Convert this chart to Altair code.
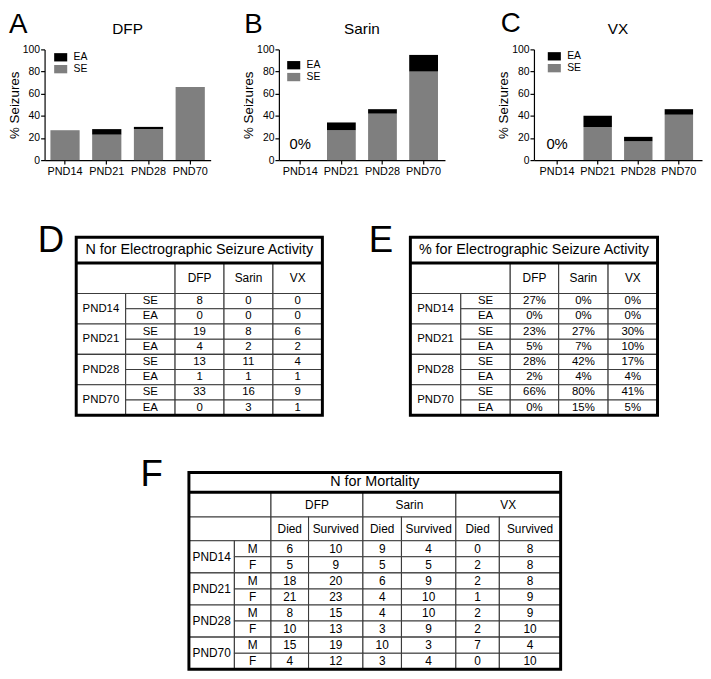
import altair as alt
import pandas as pd

# ---------------- data ----------------
ages = ["PND14", "PND21", "PND28", "PND70"]
agents = ["DFP", "Sarin", "VX"]

# % of animals with seizures (panels A-C, table E)
dfp_se_pct = [27, 23, 28, 66]
dfp_ea_pct = [0, 5, 2, 0]
sarin_se_pct = [0, 27, 42, 80]
sarin_ea_pct = [0, 7, 4, 15]
vx_se_pct = [0, 30, 17, 41]
vx_ea_pct = [0, 10, 4, 5]

# N with seizures (table D)
dfp_se_n = [8, 19, 13, 33]
dfp_ea_n = [0, 4, 1, 0]
sarin_se_n = [0, 8, 11, 16]
sarin_ea_n = [0, 2, 1, 3]
vx_se_n = [0, 6, 4, 9]
vx_ea_n = [0, 2, 1, 1]

# N for mortality (table F); rows: PND14 M, PND14 F, PND21 M, PND21 F, ...
sexes = ["M", "F"]
dfp_died = [6, 5, 18, 21, 8, 10, 15, 4]
dfp_survived = [10, 9, 20, 23, 15, 13, 19, 12]
sarin_died = [9, 5, 6, 4, 4, 3, 10, 3]
sarin_survived = [4, 5, 9, 10, 10, 9, 3, 4]
vx_died = [0, 2, 2, 1, 2, 2, 7, 0]
vx_survived = [8, 8, 8, 9, 9, 10, 4, 10]

FONT = "Liberation Sans"
SE_GRAY = "#7f7f7f"
GRID = "#3c3c3c"
PH = 112


# ---------------- bar panels ----------------
def bar_panel(agent, se, ea, letter, letter_x, letter_y, leg_x, leg_y, pw, pad_outer):
    rows = []
    for i, a in enumerate(ages):
        rows.append({"age": a, "type": "SE", "pct": se[i], "ord": 0})
        rows.append({"age": a, "type": "EA", "pct": ea[i], "ord": 1})
    df = pd.DataFrame(rows)
    tot = pd.DataFrame({
        "age": ages,
        "total": [s + e for s, e in zip(se, ea)],
        "base": [0] * len(ages),
    })
    tot["label"] = tot["total"].astype(str) + "%"

    x = alt.X(
        "age:N", sort=ages,
        scale=alt.Scale(paddingInner=0.3, paddingOuter=pad_outer),
        axis=alt.Axis(title=None, labelAngle=0, labelFontSize=11, tickSize=4,
                      labelPadding=2),
    )
    yaxis = alt.Axis(values=[0, 20, 40, 60, 80, 100], title="% Seizures",
                     titleFontSize=13.5, titleFontWeight="normal", labelFontSize=10.5,
                     tickSize=4, labelPadding=1, titlePadding=1, grid=False)
    yscale = alt.Scale(domain=[0, 100], nice=False)

    bars = alt.Chart(df).mark_bar().encode(
        x=x,
        y=alt.Y("pct:Q", stack="zero", scale=yscale, axis=yaxis),
        color=alt.Color(
            "type:N",
            scale=alt.Scale(domain=["EA", "SE"], range=["#000000", SE_GRAY]),
            legend=alt.Legend(
                title=None, orient="none", legendX=leg_x, legendY=leg_y,
                symbolType="M-1.1,-0.7H1.1V0.7H-1.1Z", symbolSize=144,
                symbolStrokeWidth=0, symbolOpacity=1, labelFontSize=10.5,
                labelOffset=7, rowPadding=0, padding=0,
            ),
        ),
        order=alt.Order("ord:Q"),
    )
    zero = alt.Chart(tot).transform_filter("datum.total == 0").mark_text(
        dy=-11, baseline="alphabetic", fontSize=15, color="black"
    ).encode(
        x=x,
        y=alt.Y("base:Q", scale=yscale, axis=yaxis),
        text="label:N",
    )
    let = alt.Chart(pd.DataFrame({"t": [letter]})).mark_text(
        align="left", baseline="alphabetic", fontSize=28, color="black",
        x=letter_x, y=letter_y,
    ).encode(text="t:N")
    ttl = alt.Chart(pd.DataFrame({"t": [agent]})).mark_text(
        align="center", baseline="alphabetic", fontSize=15.5, color="black",
        x=pw / 2, y=-16,
    ).encode(text="t:N")
    return alt.layer(bars, zero, let, ttl).properties(width=pw, height=PH)


A = bar_panel("DFP", dfp_se_pct, dfp_ea_pct, "A", -36, -16.5, 10.3, 2, 168, 0.14)
B = bar_panel("Sarin", sarin_se_pct, sarin_ea_pct, "B", -35, -16.5, 9, 10, 168, 0.17)
C = bar_panel("VX", vx_se_pct, vx_ea_pct, "C", -33.5, -17.5, 14.6, 1, 170, 0.22)


# ---------------- tables ----------------
def table_chart(cells, W, H, title_h, x_left, width, letter, lx, ly):
    cdf = pd.DataFrame(cells, columns=["x0", "x1", "y0", "y1", "label", "fs"])
    cdf["xc"] = (cdf["x0"] + cdf["x1"]) / 2
    cdf["yc"] = (cdf["y0"] + cdf["y1"]) / 2
    xs = alt.Scale(domain=[-x_left, W], nice=False, zero=False)
    ys = alt.Scale(domain=[0, H], nice=False, zero=False, reverse=True)

    rect = alt.Chart(cdf).mark_rect(fill="white", stroke=GRID, strokeWidth=1.1).encode(
        x=alt.X("x0:Q", scale=xs, axis=None), x2="x1:Q",
        y=alt.Y("y0:Q", scale=ys, axis=None), y2="y1:Q",
    )
    text = alt.Chart(cdf).mark_text(baseline="middle", align="center", color="black").encode(
        x=alt.X("xc:Q", scale=xs, axis=None),
        y=alt.Y("yc:Q", scale=ys, axis=None),
        text="label:N",
        size=alt.Size("fs:Q", scale=None),
    )
    frame_df = pd.DataFrame({"x0": [0], "x1": [W], "y0": [0], "y1": [H], "ty": [title_h]})
    frame = alt.Chart(frame_df).mark_rect(fillOpacity=0, stroke="black", strokeWidth=3).encode(
        x=alt.X("x0:Q", scale=xs, axis=None), x2="x1:Q",
        y=alt.Y("y0:Q", scale=ys, axis=None), y2="y1:Q",
    )
    sep = alt.Chart(frame_df).mark_rule(stroke="black", strokeWidth=3).encode(
        x=alt.X("x0:Q", scale=xs, axis=None), x2="x1:Q",
        y=alt.Y("ty:Q", scale=ys, axis=None),
    )
    let = alt.Chart(pd.DataFrame({"t": [letter], "lx": [lx], "ly": [ly]})).mark_text(
        align="left", baseline="alphabetic", fontSize=37, color="black"
    ).encode(
        x=alt.X("lx:Q", scale=xs, axis=None),
        y=alt.Y("ly:Q", scale=ys, axis=None),
        text="t:N",
    )
    return alt.layer(rect, text, frame, sep, let).properties(width=width, height=H)


def seizure_cells(title, per_agent, cols, fmt):
    title_h, header_h, row_h = 26, 31, 15.375
    W = cols[-1]
    cells = [(0, W, 0, title_h, title, 14.5)]
    y1 = title_h + header_h
    cells.append((0, cols[2], title_h, y1, "", 12))
    for j, ag in enumerate(agents):
        cells.append((cols[2 + j], cols[3 + j], title_h, y1, ag, 12))
    for g, age in enumerate(ages):
        top = y1 + 2 * g * row_h
        cells.append((0, cols[1], top, top + 2 * row_h, age, 11.5))
        for r, st in enumerate(["SE", "EA"]):
            ry = top + r * row_h
            cells.append((cols[1], cols[2], ry, ry + row_h, st, 11.5))
            for j in range(3):
                cells.append((cols[2 + j], cols[3 + j], ry, ry + row_h,
                              fmt(per_agent[j][r][g]), 11.5))
    return cells, W, y1 + 8 * row_h, title_h


n_data = [(dfp_se_n, dfp_ea_n), (sarin_se_n, sarin_ea_n), (vx_se_n, vx_ea_n)]
pct_data = [(dfp_se_pct, dfp_ea_pct), (sarin_se_pct, sarin_ea_pct), (vx_se_pct, vx_ea_pct)]

cellsD, WD, HD, thD = seizure_cells("N for Electrographic Seizure Activity", n_data,
                                    [0, 50, 100, 149.5, 199, 249], lambda v: str(v))
cellsE, WE, HE, thE = seizure_cells("% for Electrographic Seizure Activity", pct_data,
                                    [0, 51, 101, 150, 200, 250], lambda v: f"{v}%")

D = table_chart(cellsD, WD, HD, thD, 32, 281, "D", -39, 15)
E = table_chart(cellsE, WE, HE, thE, 0, 250, "E", -42, 15)


def mortality_cells():
    cols = [0, 46, 83, 121, 176, 215, 270, 314, 376]
    title_h, h1, h2, row_h = 20, 25, 24, 16.25
    W = cols[-1]
    cells = [(0, W, 0, title_h, "N for Mortality", 14.5)]
    y1 = title_h + h1
    y2 = y1 + h2
    cells.append((0, cols[2], title_h, y1, "", 12))
    cells.append((0, cols[2], y1, y2, "", 12))
    died = [dfp_died, sarin_died, vx_died]
    surv = [dfp_survived, sarin_survived, vx_survived]
    for j, ag in enumerate(agents):
        c0, c1, c2 = cols[2 + 2 * j], cols[3 + 2 * j], cols[4 + 2 * j]
        cells.append((c0, c2, title_h, y1, ag, 12))
        cells.append((c0, c1, y1, y2, "Died", 12))
        cells.append((c1, c2, y1, y2, "Survived", 12))
    for g, age in enumerate(ages):
        top = y2 + 2 * g * row_h
        cells.append((0, cols[1], top, top + 2 * row_h, age, 12))
        for r, sx in enumerate(sexes):
            ry = top + r * row_h
            k = 2 * g + r
            cells.append((cols[1], cols[2], ry, ry + row_h, sx, 12))
            for j in range(3):
                c0, c1, c2 = cols[2 + 2 * j], cols[3 + 2 * j], cols[4 + 2 * j]
                cells.append((c0, c1, ry, ry + row_h, str(died[j][k]), 12))
                cells.append((c1, c2, ry, ry + row_h, str(surv[j][k]), 12))
    return cells, W, y2 + 8 * row_h, title_h


cellsF, WF, HF, thF = mortality_cells()
F = table_chart(cellsF, WF, HF, thF, 146, 522, "F", -49, 14)

# ---------------- layout ----------------
# With "flush" bounds a nested concat group counts as zero-sized, so the
# spacing after a nested group is the full offset from its origin.
row1 = alt.hconcat(
    alt.hconcat(A, B, spacing=69, bounds="flush")
    .resolve_scale(color="independent").resolve_legend(color="independent"),
    C, spacing=495, bounds="flush",
).resolve_scale(color="independent").resolve_legend(color="independent")

row2 = alt.hconcat(D, E, spacing=89, bounds="flush")

PAD = {"left": 37, "top": 38, "right": 666, "bottom": 633}

chart = alt.vconcat(
    alt.vconcat(row1, row2, spacing=190, bounds="flush"),
    F, spacing=428, bounds="flush",
).properties(
    padding=PAD,
    autosize=alt.AutoSizeParams(type="none"),
).configure(font=FONT).configure_view(stroke=None).configure_axis(
    domainColor="black", tickColor="black", labelColor="black", titleColor="black",
    domainWidth=1.2, tickWidth=1.2, labelFont=FONT, titleFont=FONT,
).configure_title(color="black", font=FONT)

chart.save("out.html", embed_options={"renderer": "svg", "actions": False})
